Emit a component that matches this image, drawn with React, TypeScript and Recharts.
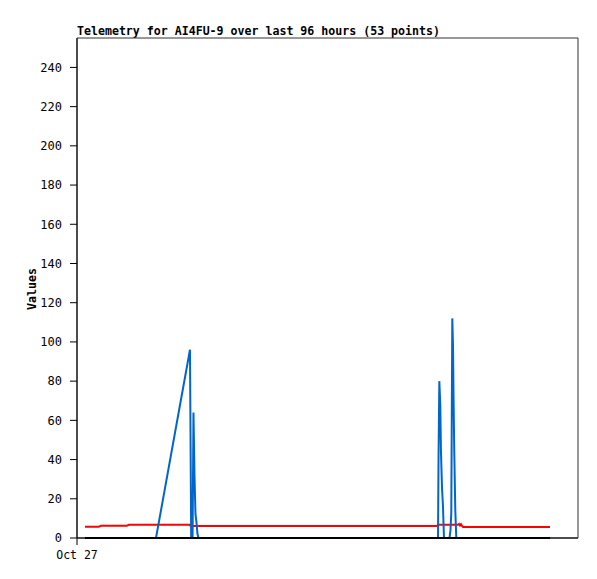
import React from 'react';
import {
  LineChart,
  Line,
  XAxis,
  YAxis,
  ReferenceArea,
} from 'recharts';

// hours since the start of the window
const hours = [
  1.6, 4.39, 4.79, 9.98, 10.38, 15.77, 22.55, 22.67, 22.79, 23.07,
  23.25, 23.45, 23.65, 23.85, 24.05, 24.25, 24.55, 35.0, 48.0, 60.0,
  71.86, 72.06, 72.16, 72.32, 72.51, 72.65, 72.85, 73.05, 73.25, 74.35,
  74.55, 74.71, 74.91, 75.05, 75.17, 75.31, 75.51, 75.71, 76.05, 76.25,
  76.45, 76.65, 76.85, 77.05, 82.0, 88.0, 94.41,
];

const blueValues = [
  0, 0, 0, 0, 0, 0, 96, 48, 0, 0,
  64, 32, 12, 8, 2, 0, 0, 0, 0, 0,
  0, 0, 40, 80, 68, 44, 26, 16, 0, 0,
  4, 13, 112, 98, 70, 43, 14, 0, 0, 0,
  0, 0, 0, 0, 0, 0, 0,
];

const redValues = [
  5.8, 5.8, 6.3, 6.3, 6.8, 6.8, 6.8, 6.1, 6.1, 6.1,
  6.1, 6.1, 6.1, 6.1, 6.1, 6.1, 6.1, 6.1, 6.1, 6.1,
  6.1, 6.8, 6.8, 6.8, 6.8, 6.8, 6.8, 6.8, 6.8, 6.8,
  6.8, 6.8, 6.8, 6.8, 6.8, 6.8, 6.8, 6.8, 6.8, 7.2,
  6.4, 7.0, 6.2, 5.6, 5.6, 5.6, 5.6,
];

const blackValues = hours.map(() => 0);

const yTicks = [0, 20, 40, 60, 80, 100, 120, 140, 160, 180, 200, 220, 240];
const xTicks = [0];
const xTickLabels = ['Oct 27'];

const data = hours.map((h, i) => ({
  t: h,
  blue: blueValues[i],
  red: redValues[i],
  black: blackValues[i],
}));

const font = '"DejaVu Sans Mono", monospace';

export default function App() {
  return (
    <div style={{ position: 'absolute', left: 0, top: 0, width: 597, height: 579, background: '#fff' }}>
      <div
        style={{
          position: 'absolute',
          left: 77,
          top: 25,
          fontFamily: font,
          fontWeight: 'bold',
          fontSize: 11.6,
          lineHeight: '12px',
          whiteSpace: 'nowrap',
          color: '#000',
        }}
      >
        Telemetry for AI4FU-9 over last 96 hours (53 points)
      </div>
      <div
        style={{
          position: 'absolute',
          left: 32,
          top: 289,
          transform: 'translate(-50%, -50%) rotate(-90deg)',
          fontFamily: font,
          fontWeight: 'bold',
          fontSize: 11.6,
          lineHeight: '12px',
          whiteSpace: 'nowrap',
          color: '#000',
        }}
      >
        Values
      </div>
      <LineChart
        width={597}
        height={579}
        data={data}
        margin={{ top: 38, right: 19, left: 0, bottom: 0 }}
      >
        <ReferenceArea x1={0} x2={100} y1={0} y2={255} fill="none" stroke="#333" strokeWidth={1} />
        <XAxis
          dataKey="t"
          type="number"
          domain={[0, 100]}
          ticks={xTicks}
          tickFormatter={(v) => xTickLabels[xTicks.indexOf(v)] ?? ''}
          height={41}
          tickSize={7}
          tickMargin={6}
          stroke="#000"
          tick={{ fontFamily: font, fontSize: 11.5, fill: '#000' }}
        />
        <YAxis
          type="number"
          domain={[0, 255]}
          ticks={yTicks}
          width={77}
          tickSize={7}
          tickMargin={8}
          stroke="#000"
          tick={{ fontFamily: font, fontSize: 12, fill: '#000' }}
        />
        <Line dataKey="red" stroke="#ff0000" strokeWidth={2} dot={false} isAnimationActive={false} />
        <Line dataKey="blue" stroke="#0066cc" strokeWidth={2} dot={false} isAnimationActive={false} />
        <Line dataKey="black" stroke="#000000" strokeWidth={2} dot={false} isAnimationActive={false} />
      </LineChart>
    </div>
  );
}
